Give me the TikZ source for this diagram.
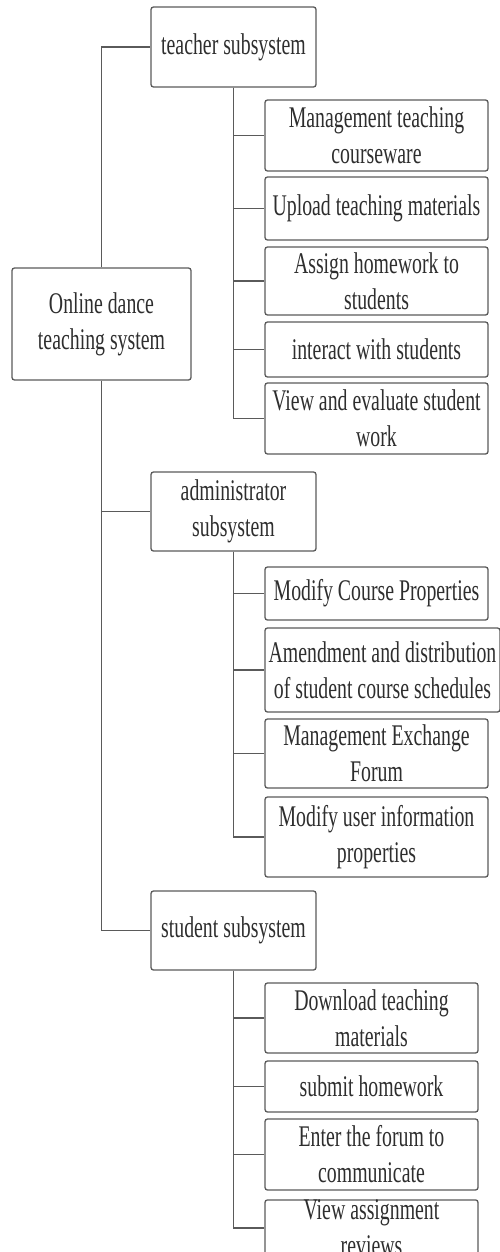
\documentclass[tikz,border=0pt]{standalone}
\usepackage{fontspec}
\setmainfont{Liberation Serif}[FakeStretch=0.66]
\definecolor{linegray}{HTML}{5A5A5A}
\definecolor{textgray}{HTML}{2E2E2E}
\begin{document}
\begin{tikzpicture}[x=1pt,y=-1pt,
    font=\fontsize{30}{36}\selectfont,
    box/.style={draw=linegray,line width=1.3pt,rounded corners=2.5pt,
      align=center,inner sep=0pt,text=textgray}]

      \useasboundingbox (0,0) rectangle (500,1252);
      \clip (0,0) rectangle (500,1252);

      \begin{scope}[every node/.style={box,minimum width=165pt}]
        \node[minimum width=179pt,minimum height=112pt] (root) at (101.5,324) {Online dance\\teaching system};
        \node[minimum height=80pt] (teach) at (233.5,47)    {teacher subsystem};
        \node[minimum height=79pt] (admin) at (233.5,511.5) {administrator\\subsystem};
        \node[minimum height=79pt] (stud)  at (233.5,930.5) {student subsystem};
      \end{scope}

      % teacher functions
      \begin{scope}[every node/.style={box,minimum width=223pt}]
        \node[minimum height=71pt] (t1) at (376.5,135.5) {Management teaching\\courseware};
        \node[minimum height=63pt] (t2) at (376.5,208.5) {Upload teaching materials};
        \node[minimum height=68pt] (t3) at (376.5,281)   {Assign homework to\\students};
        \node[minimum height=55pt] (t4) at (376.5,349.5) {interact with students};
        \node[minimum height=71pt] (t5) at (376.5,418.5) {View and evaluate student\\work};
      \end{scope}

      % administrator functions
      \begin{scope}[every node/.style={box,minimum width=223pt}]
        \node[minimum height=53pt] (a1) at (376.5,593.5) {Modify Course Properties};
        \node[minimum width=235pt,minimum height=84pt] (a2) at (382.5,670) {Amendment and distribution\\of student course schedules};
        \node[minimum height=69pt] (a3) at (376.5,753.5) {Management Exchange\\Forum};
        \node[minimum height=80pt] (a4) at (376.5,837)   {Modify user information\\properties};
      \end{scope}

      % student functions
      \begin{scope}[every node/.style={box,minimum width=213pt}]
        \node[minimum height=70pt] (s1) at (371.5,1018)   {Download teaching\\materials};
        \node[minimum height=51pt] (s2) at (371.5,1086.5) {submit homework};
        \node[minimum height=71pt] (s3) at (371.5,1154.5) {Enter the forum to\\communicate};
        \node[minimum height=56pt] (s4) at (371.5,1228)   {View assignment\\reviews};
      \end{scope}

      \begin{scope}[draw=linegray,line width=1.3pt]
        \draw (root.north) |- (teach.west);
        \draw (root.south) |- (admin.west);
        \draw (root.south) |- (stud.west);
        \foreach \n in {t1,t2,t3,t4,t5}
          \draw (teach.south) |- (\n.west);
        \foreach \n in {a1,a2,a3,a4}
          \draw (admin.south) |- (\n.west);
        \foreach \n in {s1,s2,s3,s4}
          \draw (stud.south) |- (\n.west);
      \end{scope}

    \end{tikzpicture}
\end{document}
